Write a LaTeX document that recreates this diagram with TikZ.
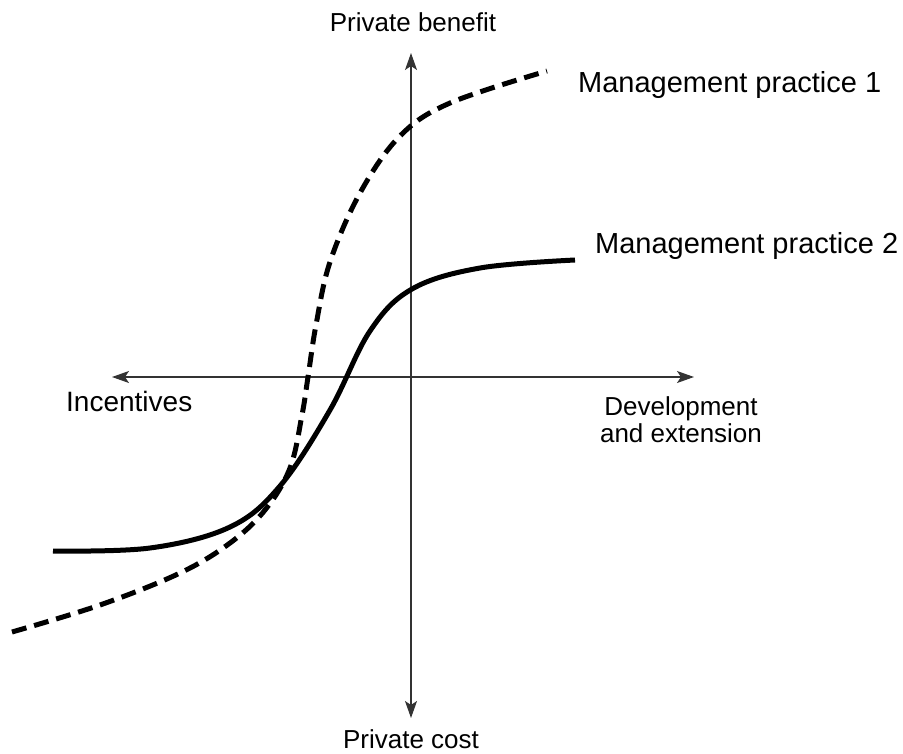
\documentclass[tikz,border=0pt]{standalone}
\usepackage{fontspec}
\setmainfont{Liberation Sans}
\usetikzlibrary{arrows.meta}
\begin{document}
\begin{tikzpicture}[x=1pt,y=-1pt,
  axis/.style={line width=1.2pt,draw=black!80,-{Stealth[length=17pt,width=12pt,inset=4pt]}},
  curve/.style={line width=5pt,black,line cap=butt},
  dashcurve/.style={curve,dash pattern=on 15pt off 8pt},
  axlabel/.style={inner sep=0pt,font=\fontsize{26}{27}\selectfont},
  mplabel/.style={inner sep=0pt,anchor=base west,font=\fontsize{29}{30}\selectfont}]
\useasboundingbox (0,0) rectangle (903,753);
\coordinate (O) at (411,377);
\coordinate (top) at (411,53);
\coordinate (bottom) at (411,718);
\coordinate (left) at (112,377);
\coordinate (right) at (694,377);
\draw[axis] (O) -- (top);
\draw[axis] (O) -- (bottom);
\draw[axis] (O) -- (left);
\draw[axis] (O) -- (right);
% solid curve (management practice 2)
\draw[curve] plot[smooth,tension=0.6] coordinates {
 (53,551) (150,548) (230,527) (280,486) (330,410) (370,331) (412,289) (480,268) (575,260)};
% dashed curve (management practice 1)
\draw[dashcurve] plot[smooth,tension=0.6] coordinates {
 (12,632) (100,605) (180,573) (230,543) (265,510) (290,468) (302,415) (308,377)
 (316,325) (330,262) (360,193) (400,136) (450,103) (547,71)};
\node[axlabel,anchor=base] (pb) at (413,31) {Private benefit};
\node[axlabel,anchor=base] (pc) at (411,748) {Private cost};
\node[axlabel,anchor=base west,font=\fontsize{28}{29}\selectfont] (inc) at (66,411) {Incentives};
\node[axlabel,anchor=base] (dev) at (681,415) {Development};
\node[axlabel,anchor=base] (ext) at (681,442) {and extension};
\node[mplabel] (mp1) at (578,92) {Management practice 1};
\node[mplabel] (mp2) at (595,253) {Management practice 2};
\end{tikzpicture}
\end{document}
